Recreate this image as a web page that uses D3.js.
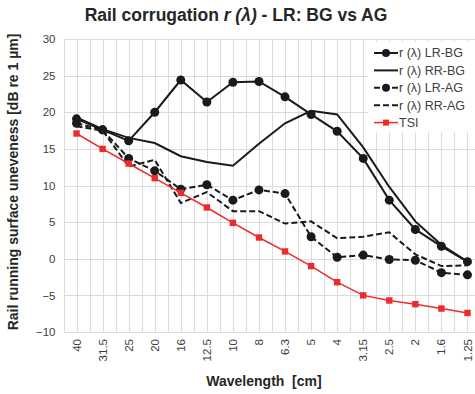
<!DOCTYPE html>
<html>
<head>
<meta charset="utf-8">
<script src="https://cdn.jsdelivr.net/npm/d3@7"></script>
<style>
  body { margin: 0; background: #fff; }
  svg { font-family: "Liberation Sans", Arial, sans-serif; }
</style>
</head>
<body>
<svg id="chart" width="475" height="394"></svg>
<script>
// Data
const wavelengths = ["40", "31.5", "25", "20", "16", "12.5", "10", "8", "6.3", "5", "4", "3.15", "2.5", "2", "1.6", "1.25"];
const lrBG = [19.1, 17.6, 16.1, 20.0, 24.4, 21.4, 24.1, 24.2, 22.1, 19.7, 17.4, 13.7, 8.0, 4.0, 1.7, -0.4];
const rrBG = [19.3, 17.7, 16.5, 15.8, 14.0, 13.2, 12.7, 15.7, 18.5, 20.2, 19.7, 15.2, 9.8, 5.1, 1.9, -0.4];
const lrAG = [18.5, 17.6, 13.7, 12.0, 9.5, 10.1, 8.0, 9.4, 8.9, 3.0, 0.2, 0.5, -0.1, -0.2, -1.9, -2.2];
const rrAG = [18.1, 17.5, 12.6, 13.5, 7.6, 9.1, 6.5, 6.5, 4.8, 5.1, 2.8, 3.0, 3.6, 0.6, -1.0, -0.9];
const tsi  = [17.1, 15.0, 13.0, 11.0, 9.0, 7.0, 4.9, 2.9, 1.0, -1.0, -3.2, -5.0, -5.7, -6.2, -6.8, -7.4];
const yTicks = [-10, -5, 0, 5, 10, 15, 20, 25, 30];

const series = [
    {name: "r (λ) LR-BG", values: lrBG, colour: "#1a1a1a", dash: null, marker: "circle"},
    {name: "r (λ) RR-BG", values: rrBG, colour: "#1a1a1a", dash: null, marker: null},
    {name: "r (λ) LR-AG", values: lrAG, colour: "#1a1a1a", dash: "6,3", marker: "circle"},
    {name: "r (λ) RR-AG", values: rrAG, colour: "#1a1a1a", dash: "6,3", marker: null},
    {name: "TSI", values: tsi, colour: "#ee2a2a", dash: null, marker: "square"}
];

const svg = d3.select("#chart");
const plot = {left: 63.5, right: 480.5, top: 39, bottom: 332};

const x = d3.scaleBand()
    .domain(wavelengths)
    .range([plot.left, plot.right]);
const y = d3.scaleLinear()
    .domain([-10, 30])
    .range([plot.bottom, plot.top]);
const cx = (i) => x(wavelengths[i]) + x.bandwidth() / 2;

// Gridlines (category boundaries and category centres)
const grid = svg.append("g").attr("stroke", "#dcdcdc").attr("stroke-width", 1);
const vLines = [];
wavelengths.forEach((w) => { vLines.push(x(w)); vLines.push(x(w) + x.bandwidth() / 2); });
vLines.push(plot.right);
grid.selectAll(".v").data(vLines).enter().append("line")
    .attr("x1", (d) => Math.round(d) + 0.5).attr("x2", (d) => Math.round(d) + 0.5)
    .attr("y1", plot.top).attr("y2", plot.bottom);
grid.selectAll(".h").data(yTicks).enter().append("line")
    .attr("x1", plot.left).attr("x2", plot.right)
    .attr("y1", (d) => Math.round(y(d)) + 0.5).attr("y2", (d) => Math.round(y(d)) + 0.5);

// Axes
svg.append("g")
    .attr("transform", `translate(${plot.left - 8}, 0)`)
    .call(d3.axisLeft(y).tickValues(yTicks).tickSize(0).tickPadding(0))
    .call((g) => g.select(".domain").remove())
    .selectAll("text")
    .style("font-size", "11.5px")
    .style("fill", "#404040");

svg.append("g")
    .attr("transform", `translate(0, ${plot.bottom})`)
    .call(d3.axisBottom(x).tickSize(0))
    .call((g) => g.select(".domain").remove())
    .selectAll("text")
    .attr("transform", "rotate(-90)")
    .attr("x", -7)
    .attr("y", 0)
    .attr("dy", "0.35em")
    .style("text-anchor", "end")
    .style("font-size", "11.5px")
    .style("fill", "#404040");

// Lines
const line = d3.line()
    .x((d, i) => cx(i))
    .y((d) => y(d));

series.forEach((s) => {
    svg.append("path")
        .datum(s.values)
        .attr("d", line)
        .attr("fill", "none")
        .attr("stroke", s.colour)
        .attr("stroke-width", s.marker === "square" ? 1.5 : 2)
        .attr("stroke-dasharray", s.dash);
    if (s.marker === "circle") {
        svg.selectAll(null).data(s.values).enter().append("circle")
            .attr("cx", (d, i) => cx(i))
            .attr("cy", (d) => y(d))
            .attr("r", 4.5)
            .attr("fill", s.colour);
    } else if (s.marker === "square") {
        svg.selectAll(null).data(s.values).enter().append("rect")
            .attr("x", (d, i) => cx(i) - 3.2)
            .attr("y", (d) => y(d) - 3.2)
            .attr("width", 6.4)
            .attr("height", 6.4)
            .attr("fill", s.colour);
    }
});

// Legend
const legend = svg.append("g").attr("transform", "translate(368, 42)");
legend.append("rect")
    .attr("x", 0).attr("y", 0)
    .attr("width", 110).attr("height", 90)
    .attr("fill", "#fff");
series.forEach((s, i) => {
    const row = legend.append("g").attr("transform", `translate(0, ${11 + i * 17.4})`);
    row.append("line")
        .attr("x1", 6).attr("x2", 30)
        .attr("stroke", s.colour)
        .attr("stroke-width", s.marker === "square" ? 1.5 : 2)
        .attr("stroke-dasharray", s.dash);
    if (s.marker === "circle") {
        row.append("circle").attr("cx", 18).attr("r", 4).attr("fill", s.colour);
    } else if (s.marker === "square") {
        row.append("rect").attr("x", 15).attr("y", -3).attr("width", 6).attr("height", 6).attr("fill", s.colour);
    }
    row.append("text")
        .attr("x", 31).attr("dy", "0.35em")
        .style("font-size", "12.5px")
        .style("fill", "#404040")
        .text(s.name);
});

// Titles
const title = svg.append("text")
    .attr("x", 236).attr("y", 21)
    .style("text-anchor", "middle")
    .style("font-size", "17.5px")
    .style("font-weight", "bold")
    .style("fill", "#262626");
title.append("tspan").text("Rail corrugation ");
title.append("tspan").style("font-style", "italic").text("r (λ)");
title.append("tspan").text(" - LR: BG vs AG");

svg.append("text")
    .attr("x", 264).attr("y", 386)
    .style("text-anchor", "middle")
    .style("font-size", "14px")
    .style("font-weight", "bold")
    .style("white-space", "pre")
    .style("fill", "#262626")
    .text("Wavelength  [cm]");

svg.append("text")
    .attr("transform", "translate(18, 182) rotate(-90)")
    .style("text-anchor", "middle")
    .style("font-size", "14px")
    .style("font-weight", "bold")
    .style("fill", "#262626")
    .text("Rail running surface uneveness [dB re 1 µm]");
</script>
</body>
</html>
